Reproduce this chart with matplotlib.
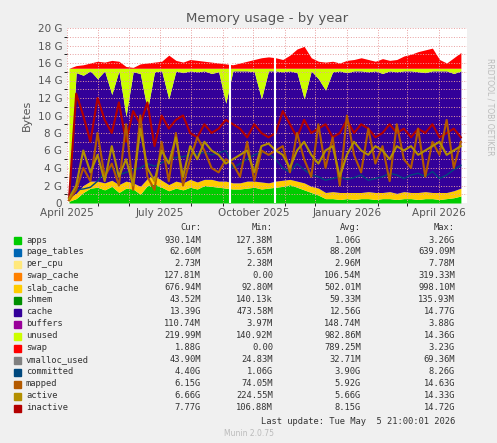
import numpy as np
import pandas as pd
import matplotlib
matplotlib.use("Agg")
import matplotlib.pyplot as plt
import matplotlib.dates as mdates

ram_total = 15.4  # G

apps = [0.2, 0.5, 1.2, 1.7, 1.8, 1.5, 1.9, 1.2,
        1.7, 1.6, 1.0, 2.0, 2.2, 1.8, 1.4, 1.7,
        1.5, 1.8, 1.6, 2.0, 1.9, 1.8, 1.7, 1.6,
        1.6, 1.7, 1.8, 1.6, 1.7, 1.8, 1.9, 2.1,
        1.8, 1.5, 1.2, 0.9, 0.5, 0.5, 0.4, 0.5,
        0.4, 0.5, 0.5, 0.4, 0.5, 0.5, 0.4, 0.5,
        0.5, 0.4, 0.5, 0.5, 0.4, 0.5, 0.6, 0.8]
slab = [0.4, 0.6, 0.8, 0.8, 0.7, 0.8, 0.7, 0.9,
        0.8, 0.7, 0.9, 0.8, 0.9, 0.8, 0.7, 0.8,
        0.8, 0.9, 0.8, 0.7, 0.8, 0.7, 0.8, 0.7,
        0.7, 0.8, 0.7, 0.8, 0.6, 0.7, 0.7, 0.6,
        0.7, 0.8, 0.7, 0.8, 0.7, 0.8, 0.8, 0.7,
        0.8, 0.7, 0.8, 0.8, 0.7, 0.8, 0.7, 0.8,
        0.7, 0.8, 0.8, 0.7, 0.8, 0.7, 0.8, 0.9]
unused = [14.8, 0.5, 0.8, 0.3, 1.2, 0.3, 3.0, 0.3,
          5.5, 0.4, 0.6, 4.8, 0.4, 0.3, 3.5, 0.3,
          0.5, 0.3, 0.4, 0.3, 0.6, 0.4, 4.0, 0.3,
          0.3, 0.3, 0.4, 3.5, 0.3, 0.3, 0.4, 0.3,
          0.5, 3.5, 0.3, 1.2, 2.5, 0.4, 0.3, 0.5,
          0.3, 0.3, 0.4, 0.3, 0.6, 0.3, 0.4, 0.3,
          0.3, 0.4, 0.5, 0.3, 0.3, 0.3, 0.6, 0.3]
swap = [0.0, 0.3, 0.4, 0.6, 0.8, 0.7, 0.9, 0.8,
        0.2, 0.1, 0.5, 0.6, 0.7, 0.8, 1.5, 0.9,
        0.7, 1.0, 0.9, 0.8, 0.7, 0.6, 0.5, 0.4,
        0.6, 0.8, 1.0, 1.2, 1.3, 1.2, 1.0, 1.5,
        2.2, 2.5, 1.2, 0.8, 0.7, 0.8, 0.6, 0.9,
        1.0, 1.2, 1.0, 0.8, 1.1, 0.9, 1.0, 1.4,
        1.6, 1.9, 2.1, 2.3, 1.0, 0.6, 1.2, 1.8]
committed = [1.0, 1.5, 1.6, 1.8, 2.5, 3.5, 4.0, 3.2,
             3.5, 3.8, 4.0, 4.5, 4.2, 4.6, 5.0, 5.2,
             5.3, 5.5, 5.6, 5.8, 5.5, 5.7, 6.0, 4.0,
             4.5, 5.0, 5.5, 5.8, 5.6, 5.0, 4.0, 3.5,
             4.5, 3.8, 3.2, 3.0, 2.6, 2.8, 3.0, 2.7,
             2.9, 3.2, 2.6, 2.8, 3.0, 3.4, 3.2, 2.8,
             3.2, 3.4, 3.0, 3.6, 2.8, 3.2, 3.8, 4.3]
active = [0.5, 2.0, 6.0, 3.5, 5.5, 2.5, 6.5, 3.0,
          5.0, 2.0, 8.5, 4.0, 2.5, 6.0, 4.5, 7.5,
          3.0, 6.5, 5.0, 7.0, 6.0, 5.5, 4.5, 5.0,
          5.5, 6.0, 3.5, 6.5, 6.8, 6.0, 5.5, 4.0,
          6.0, 7.0, 5.5, 4.5, 6.0, 6.5, 3.0, 5.5,
          7.0, 6.0, 5.5, 6.5, 6.0, 5.0, 6.5, 6.0,
          6.5, 5.5, 6.0, 6.5, 7.0, 5.5, 6.0, 6.5]
mapped = [0.3, 1.5, 4.0, 2.5, 8.0, 3.0, 4.5, 2.0,
          9.0, 1.5, 10.0, 3.0, 1.5, 7.0, 2.5, 8.0,
          2.0, 5.0, 7.5, 6.0, 4.0, 3.5, 5.0, 4.5,
          3.0, 7.0, 2.5, 6.0, 5.5, 6.0, 6.5, 3.5,
          8.0, 5.0, 3.0, 9.0, 4.0, 7.5, 2.0, 10.0,
          5.5, 3.5, 8.5, 4.5, 6.5, 2.5, 9.0, 5.0,
          4.0, 8.5, 3.0, 7.0, 5.5, 9.5, 4.0, 7.0]
inactive = [0.5, 12.5, 10.0, 7.0, 12.0, 9.5, 8.0, 11.5,
            7.0, 10.5, 9.0, 11.5, 6.5, 10.0, 8.5, 9.5,
            10.0, 8.0, 7.5, 9.0, 8.0, 8.5, 9.5, 9.0,
            8.5, 7.5, 9.0, 8.0, 7.5, 8.0, 10.5, 9.0,
            7.5, 9.5, 8.0, 8.5, 9.0, 7.5, 8.0, 9.5,
            8.0, 9.0, 8.5, 7.5, 8.0, 9.0, 8.0, 8.5,
            7.5, 8.5, 8.0, 9.0, 7.5, 8.0, 8.5, 7.5]
gap_dates = ["2025-09-08", "2025-10-22"]

legend_rows = [
    ("apps", "#00CC00", "930.14M", "127.38M", "1.06G", "3.26G"),
    ("page_tables", "#0066B3", "62.60M", "5.65M", "88.20M", "639.09M"),
    ("per_cpu", "#FFE87C", "2.73M", "2.38M", "2.96M", "7.78M"),
    ("swap_cache", "#FF8000", "127.81M", "0.00", "106.54M", "319.33M"),
    ("slab_cache", "#FFCC00", "676.94M", "92.80M", "502.01M", "998.10M"),
    ("shmem", "#008F00", "43.52M", "140.13k", "59.33M", "135.93M"),
    ("cache", "#330099", "13.39G", "473.58M", "12.56G", "14.77G"),
    ("buffers", "#990099", "110.74M", "3.97M", "148.74M", "3.88G"),
    ("unused", "#CCFF00", "219.99M", "140.92M", "982.86M", "14.36G"),
    ("swap", "#FF0000", "1.88G", "0.00", "789.25M", "3.23G"),
    ("vmalloc_used", "#808080", "43.90M", "24.83M", "32.71M", "69.36M"),
    ("committed", "#00487D", "4.40G", "1.06G", "3.90G", "8.26G"),
    ("mapped", "#B35A00", "6.15G", "74.05M", "5.92G", "14.63G"),
    ("active", "#B38F00", "6.66G", "224.55M", "5.66G", "14.33G"),
    ("inactive", "#B30000", "7.77G", "106.88M", "8.15G", "14.72G"),
]

dates = pd.date_range("2025-04-03", periods=len(apps), freq="7D")

fig = plt.figure(figsize=(4.97, 4.43), dpi=100, facecolor="#F0F0F0")
ax = fig.add_axes([67/497, 1-203/443, 400/497, 175/443], facecolor="white")

a = np.array(apps)
s = np.array(slab)
u = np.array(unused)
sw = np.array(swap)
cache = ram_total - a - s - u
c1 = a
c2 = c1 + s
c3 = c2 + cache
c4 = c3 + u
c5 = c4 + sw
ax.fill_between(dates, 0, c1, color="#00CC00", lw=0)
ax.fill_between(dates, c1, c2, color="#FFCC00", lw=0)
ax.fill_between(dates, c2, c3, color="#330099", lw=0)
ax.fill_between(dates, c3, c4, color="#CCFF00", lw=0)
ax.fill_between(dates, c4, c5, color="#FF0000", lw=0)
ax.plot(dates, committed, color="#00487D", lw=1)
ax.plot(dates, inactive, color="#B30000", lw=1.5)
ax.plot(dates, mapped, color="#B35A00", lw=1.5)
ax.plot(dates, active, color="#B38F00", lw=1.5)
for g in gap_dates:
    ax.axvline(pd.Timestamp(g), color="white", lw=1.5, zorder=5)

ax.set_xlim(pd.Timestamp("2025-04-01"), pd.Timestamp("2026-04-29"))
ax.set_ylim(0, 20)
ax.set_yticks(range(0, 21, 2))
ax.set_yticklabels(["0"] + [f"{v} G" for v in range(2, 21, 2)])
ax.set_yticks(range(0, 21), minor=True)
ax.xaxis.set_major_locator(mdates.MonthLocator(bymonth=[1, 4, 7, 10]))
ax.xaxis.set_major_formatter(mdates.DateFormatter("%B %Y"))
ax.xaxis.set_minor_locator(mdates.MonthLocator())
ax.grid(True, which="both", color="#E8A0A0", ls=":", lw=0.7)
ax.tick_params(labelsize=7.5, colors="#555555", length=0)
for sp in ax.spines.values():
    sp.set_visible(False)
ax.set_ylabel("Bytes", fontsize=8, color="#555555")
ax.set_title("Memory usage - by year", fontsize=9.5, color="#555555", pad=4)
fig.text(0.985, 0.87, "RRDTOOL / TOBI OETIKER", rotation=270, fontsize=5.5,
         color="#BBBBBB", va="top", ha="center")

mono = dict(family="DejaVu Sans Mono", fontsize=6.3, color="#333333")
cols = [201, 273, 361, 455]
for x, h in zip(cols, ["Cur:", "Min:", "Avg:", "Max:"]):
    fig.text(x/497, 1-227/443, h, ha="right", va="center", **mono)
for i, row in enumerate(legend_rows):
    y = 1 - (240 + 12*i)/443
    fig.patches.append(plt.Rectangle((14/497, y-3.5/443), 7/497, 7/443,
                                     color=row[1], transform=fig.transFigure))
    fig.text(26/497, y, row[0], ha="left", va="center", **mono)
    for x, v in zip(cols, row[2:]):
        fig.text(x/497, y, v, ha="right", va="center", **mono)
fig.text(455/497, 1-421/443, "Last update: Tue May  5 21:00:01 2026",
         ha="right", va="center", **mono)
fig.text(0.5, 1-433/443, "Munin 2.0.75", ha="center", va="center",
         fontsize=5.5, color="#BBBBBB")

fig.savefig("out.png", dpi=100, facecolor=fig.get_facecolor())
